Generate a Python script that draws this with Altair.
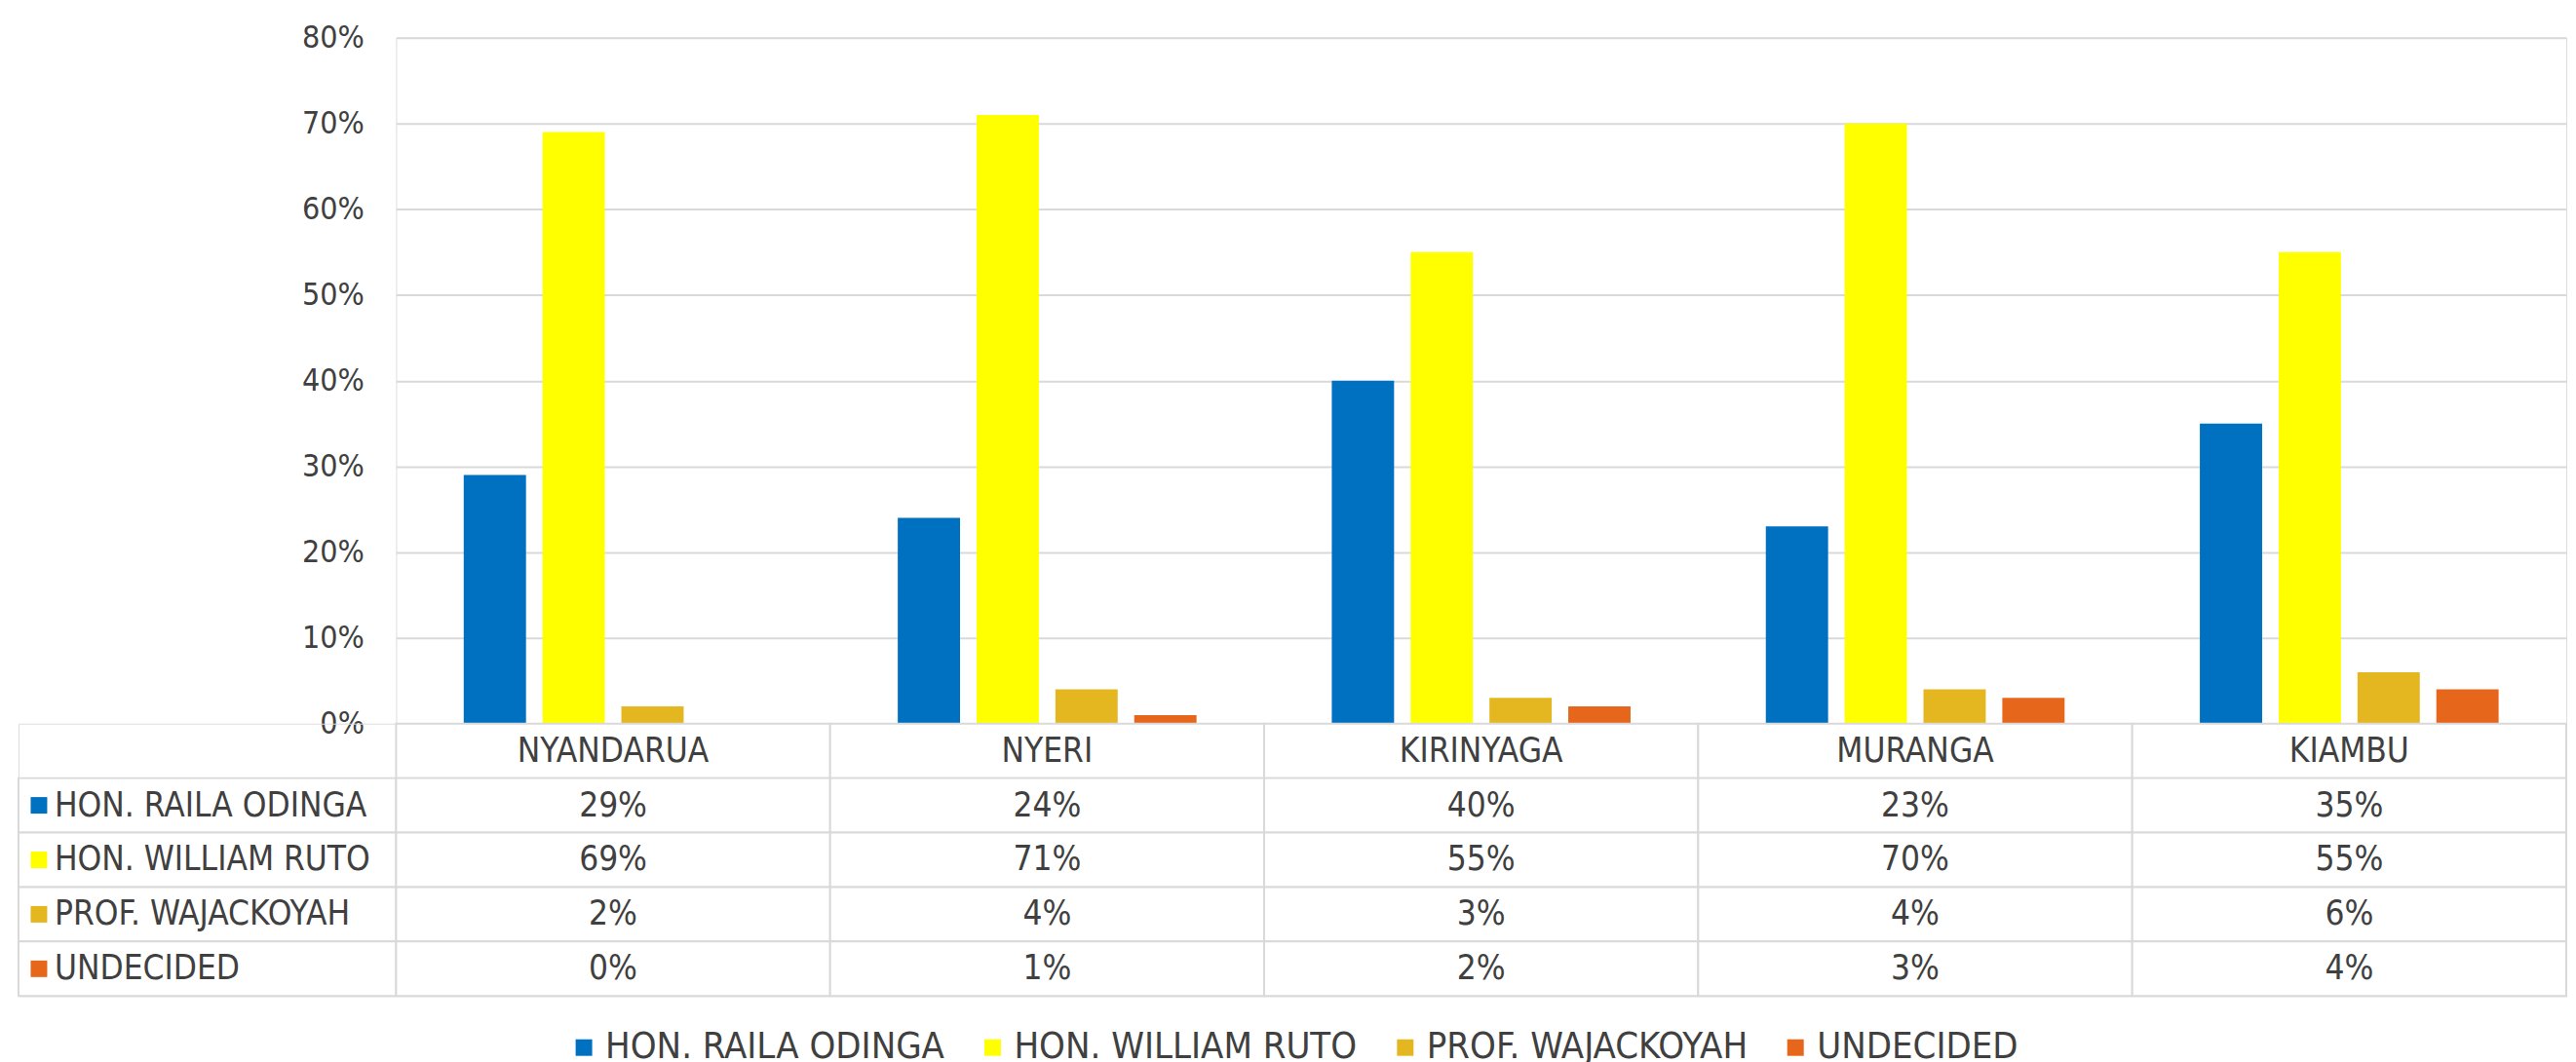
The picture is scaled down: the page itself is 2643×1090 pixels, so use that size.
import altair as alt
import pandas as pd

counties = ["NYANDARUA", "NYERI", "KIRINYAGA", "MURANGA", "KIAMBU"]
series = ["HON. RAILA ODINGA", "HON. WILLIAM RUTO", "PROF. WAJACKOYAH", "UNDECIDED"]
colors = ["#0070C0", "#FFFF00", "#E4B720", "#E6661B"]
raila = [29, 24, 40, 23, 35]
ruto = [69, 71, 55, 70, 55]
waja = [2, 4, 3, 4, 6]
undecided = [0, 1, 2, 3, 4]
y_ticks = [0, 0.1, 0.2, 0.3, 0.4, 0.5, 0.6, 0.7, 0.8]

FONT = "Liberation Sans Narrow, DejaVu Sans Condensed, Roboto, sans-serif"
TXT = "#404040"
GRID = "#D9D9D9"
HEADER = "header"
row_order = [HEADER] + series

values = [raila, ruto, waja, undecided]
recs = []
for s, vals in zip(series, values):
    for c, v in zip(counties, vals):
        recs.append({"county": c, "series": s, "value": v / 100.0, "row": s, "text": f"{v}%"})
df = pd.DataFrame(recs)
hdr = pd.DataFrame({"county": counties, "row": [HEADER] * len(counties), "text": counties})
table_df = pd.concat([hdr, df[["county", "row", "text"]]], ignore_index=True)
labels_df = pd.DataFrame({"row": series, "series": series})

PLOT_W = 2230
LABEL_W = 388
BAR_H = 705
TABLE_H = 280

color_scale = alt.Scale(domain=series, range=colors)
x_scale = alt.Scale(domain=counties, paddingInner=0, paddingOuter=0)
row_scale = alt.Scale(domain=row_order, paddingInner=0, paddingOuter=0)

bars = alt.Chart(df).mark_bar().encode(
    x=alt.X("county:N", scale=x_scale, axis=None),
    xOffset=alt.XOffset("series:N", sort=series,
                        scale=alt.Scale(paddingInner=0.21, paddingOuter=0.858)),
    y=alt.Y("value:Q", scale=alt.Scale(domain=[0, 0.8], nice=False),
            axis=alt.Axis(values=y_ticks, format=".0%", title=None, domain=False,
                          ticks=False, labelPadding=33, labelFontSize=32,
                          labelFont=FONT, labelColor=TXT, grid=True,
                          gridColor=GRID, gridWidth=2)),
    color=alt.Color("series:N", scale=color_scale, sort=series,
                    legend=alt.Legend(title=None, orient="none", direction="horizontal",
                                      legendX=562, legendY=1019, symbolType="square",
                                      symbolSize=289, symbolStrokeWidth=0,
                                      labelFontSize=38, labelFont=FONT, labelColor=TXT,
                                      labelLimit=0, labelOffset=3, columnPadding=30,
                                      padding=0)),
).properties(width=PLOT_W, height=BAR_H)

spacer = alt.Chart(pd.DataFrame({"t": [""]})).mark_text().encode(
    text="t:N"
).properties(width=LABEL_W, height=BAR_H)

label_cells = alt.Chart(labels_df).mark_rect(fill="white", stroke=GRID, strokeWidth=2).encode(
    y=alt.Y("row:N", scale=row_scale, axis=None),
)
label_sym = alt.Chart(labels_df).mark_square(size=289, opacity=1).encode(
    x=alt.value(21),
    y=alt.Y("row:N", scale=row_scale, axis=None),
    color=alt.Color("series:N", scale=color_scale, legend=None),
)
label_txt = alt.Chart(labels_df).mark_text(align="left", font=FONT, fontSize=35, color=TXT).encode(
    x=alt.value(37),
    y=alt.Y("row:N", scale=row_scale, axis=None),
    text="series:N",
)
label_chart = alt.layer(label_cells, label_sym, label_txt).properties(width=LABEL_W, height=TABLE_H)

cells = alt.Chart(table_df).mark_rect(fill="white", stroke=GRID, strokeWidth=2).encode(
    x=alt.X("county:N", scale=x_scale, axis=None),
    y=alt.Y("row:N", scale=row_scale, axis=None),
)
cell_txt = alt.Chart(table_df).mark_text(font=FONT, fontSize=35, color=TXT).encode(
    x=alt.X("county:N", scale=x_scale, axis=None),
    y=alt.Y("row:N", scale=row_scale, axis=None),
    text="text:N",
)
table = alt.layer(cells, cell_txt).properties(width=PLOT_W, height=TABLE_H)

chart = alt.concat(spacer, bars, label_chart, table, columns=2).properties(
    bounds="flush", spacing=0,
    padding={"left": 9, "top": 13, "right": 0, "bottom": 0},
).resolve_scale(color="shared").configure_view(stroke=None).configure(background="white")

chart.save("out.html", embed_options={"renderer": "svg", "actions": False})
